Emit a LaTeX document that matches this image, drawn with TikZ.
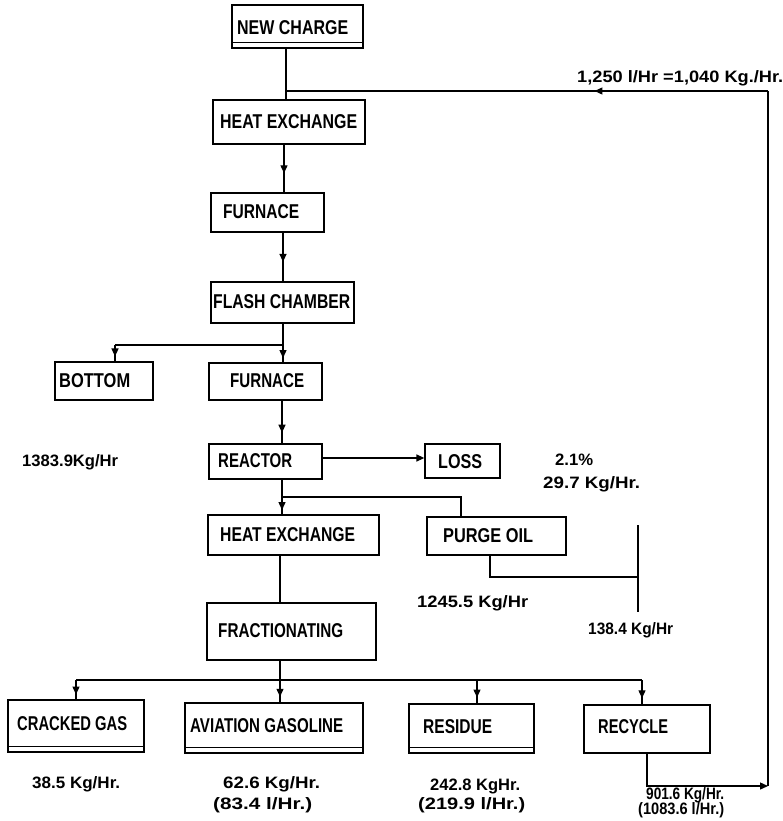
\documentclass[tikz,border=0pt]{standalone}
\usepackage{fontspec}
\setmainfont{Liberation Sans}
\usetikzlibrary{arrows.meta,decorations.markings}
\newcommand\fitw[2]{\resizebox{#1pt}{\height}{#2}}
\tikzset{
  box/.style={draw, line width=1.3pt, rectangle, inner sep=0pt},
  blbl/.style={anchor=west, inner sep=0pt, font=\fontsize{20}{22}\selectfont\bfseries},
  nlbl/.style={anchor=west, inner sep=0pt, font=\fontsize{16.5}{18}\selectfont\bfseries},
  wire/.style={line width=1.3pt},
  marr/.style={postaction={decorate}, decoration={markings, mark=at position #1 with {\arrow{Triangle[length=8pt,width=7pt]}}}},
  tip/.style={-{Triangle[length=8pt,width=7pt]}}
}
\begin{document}
\begin{tikzpicture}[x=1pt,y=-1pt]
\useasboundingbox (0,0) rectangle (783,821);
% boxes
\node[box, minimum width=131pt, minimum height=43pt] (nc) at (297.5,26.5) {};
\node[box, minimum width=152pt, minimum height=44pt] (he1) at (289,122) {};
\node[box, minimum width=113pt, minimum height=39pt] (fu1) at (267.5,212.5) {};
\node[box, minimum width=143pt, minimum height=41pt] (fl) at (282.5,302.5) {};
\node[box, minimum width=98pt, minimum height=38pt] (bot) at (104,381) {};
\node[box, minimum width=113pt, minimum height=37pt] (fu2) at (265.5,381.5) {};
\node[box, minimum width=113pt, minimum height=35pt] (re) at (265.5,461.5) {};
\node[box, minimum width=75pt, minimum height=34pt] (loss) at (462.5,461) {};
\node[box, minimum width=171pt, minimum height=40pt] (he2) at (293.5,535) {};
\node[box, minimum width=139pt, minimum height=38pt] (pu) at (496.5,536) {};
\node[box, minimum width=169pt, minimum height=57pt] (fr) at (291.5,631.5) {};
\node[box, minimum width=136pt, minimum height=52pt] (cg) at (76,726) {};
\node[box, minimum width=178pt, minimum height=50pt] (av) at (274,728) {};
\node[box, minimum width=125pt, minimum height=49pt] (rs) at (471.5,728.5) {};
\node[box, minimum width=126pt, minimum height=48pt] (rc) at (647,729) {};
% double bottoms
\foreach \b in {nc,cg,av,rs}
  \draw[wire] ([yshift=6pt]\b.south west) -- ([yshift=6pt]\b.south east);
% box labels
\node[blbl] (nct) at (237,28) {\fitw{111}{NEW CHARGE}};
\node[blbl] (he1t) at (220,122) {\fitw{137}{HEAT EXCHANGE}};
\node[blbl] (fu1t) at (223,212) {\fitw{76}{FURNACE}};
\node[blbl] (flt) at (213,302) {\fitw{137}{FLASH CHAMBER}};
\node[blbl] (bott) at (59,381) {\fitw{71}{BOTTOM}};
\node[blbl] (fu2t) at (230,381) {\fitw{74}{FURNACE}};
\node[blbl] (ret) at (218,461) {\fitw{74}{REACTOR}};
\node[blbl] (losst) at (438,462) {\fitw{44}{LOSS}};
\node[blbl] (he2t) at (220,535) {\fitw{135}{HEAT EXCHANGE}};
\node[blbl] (put) at (443,536) {\fitw{90}{PURGE OIL}};
\node[blbl] (frt) at (218,631) {\fitw{125}{FRACTIONATING}};
\node[blbl] (cgt) at (17,724) {\fitw{110}{CRACKED GAS}};
\node[blbl] (avt) at (190,726) {\fitw{153}{AVIATION GASOLINE}};
\node[blbl] (rst) at (423,727) {\fitw{69}{RESIDUE}};
\node[blbl] (rct) at (598,727) {\fitw{70}{RECYCLE}};
% number labels
\node[nlbl] (n1) at (577,78) {\fitw{206}{1,250 l/Hr =1,040 Kg./Hr.}};
\node[nlbl] (n2) at (22,462) {\fitw{96}{1383.9Kg/Hr}};
\node[nlbl] (n3) at (555,460) {\fitw{38}{2.1\%}};
\node[nlbl] (n4) at (543,484) {\fitw{97}{29.7 Kg/Hr.}};
\node[nlbl] (n5) at (417,603) {\fitw{111}{1245.5 Kg/Hr}};
\node[nlbl] (n6) at (588,630) {\fitw{85}{138.4 Kg/Hr}};
\node[nlbl] (n7) at (32,784) {\fitw{88}{38.5 Kg/Hr.}};
\node[nlbl] (n8) at (223,784) {\fitw{97}{62.6 Kg/Hr.}};
\node[nlbl] (n9) at (213,805) {\fitw{99}{(83.4 l/Hr.)}};
\node[nlbl] (n10) at (430,786) {\fitw{90}{242.8 KgHr.}};
\node[nlbl] (n11) at (418,805) {\fitw{107}{(219.9 l/Hr.)}};
\node[nlbl] (n12) at (646,795) {\fitw{78}{901.6 Kg/Hr.}};
\node[nlbl] (n13) at (638,810) {\fitw{86}{(1083.6 l/Hr.)}};
% columns and junctions
\coordinate (cA) at (286,0);
\coordinate (cB) at (284,0);
\coordinate (cC) at (283,0);
\coordinate (cD) at (282,0);
\coordinate (cE) at (280,0);
\coordinate (cb) at (115,0);
\coordinate (cp) at (461,0);
\coordinate (cq) at (490,0);
\coordinate (a1) at (76,0);
\coordinate (a3) at (477,0);
\coordinate (a4) at (642,0);
\coordinate (r1) at (647,0);
\coordinate (ly) at (0,458);
\coordinate (j0) at (286,91);
\coordinate (rt) at (768,91);
\coordinate (rb) at (768,786);
\coordinate (j1) at (283,345);
\coordinate (j2) at (282,497);
\coordinate (j3) at (280,680);
\coordinate (p1) at (638,525);
\coordinate (p2) at (638,612);
\coordinate (p3) at (638,577);
% connectors
\draw[wire] (nc.south -| cA) -- (he1.north -| cA);
\draw[wire, marr=0.6] (he1.south -| cB) -- (fu1.north -| cB);
\draw[wire, marr=0.6] (fu1.south -| cC) -- (fl.north -| cC);
\draw[wire] (fl.south -| cC) -- (j1);
\draw[wire] (j1) -- (j1 -| cb);
\draw[wire, marr=0.7] (j1 -| cb) -- (bot.north -| cb);
\draw[wire, marr=0.75] (j1) -- (fu2.north -| j1);
\draw[wire, marr=0.75] (fu2.south -| cD) -- (re.north -| cD);
\draw[wire, tip] (re.east |- ly) -- (loss.west |- ly);
\draw[wire] (re.south -| j2) -- (j2);
\draw[wire, marr=0.75] (j2) -- (he2.north -| j2);
\draw[wire] (j2) -- (j2 -| cp) -- (pu.north -| cp);
\draw[wire] (pu.south -| cq) |- (p3);
\draw[wire] (p1) -- (p2);
\draw[wire] (he2.south -| cE) -- (fr.north -| cE);
\draw[wire] (fr.south -| cE) -- (j3);
\draw[wire] (j3 -| a1) -- (j3 -| a4);
\draw[wire, marr=0.75] (j3 -| a1) -- (cg.north -| a1);
\draw[wire, marr=0.75] (j3) -- (av.north -| j3);
\draw[wire, marr=0.75] (j3 -| a3) -- (rs.north -| a3);
\draw[wire, marr=0.75] (j3 -| a4) -- (rc.north -| a4);
\draw[wire, tip] (rc.south -| r1) |- (rb);
\draw[wire] (rb) -- (rt);
\draw[wire, marr=0.36] (rt) -- (j0);
\end{tikzpicture}
\end{document}
